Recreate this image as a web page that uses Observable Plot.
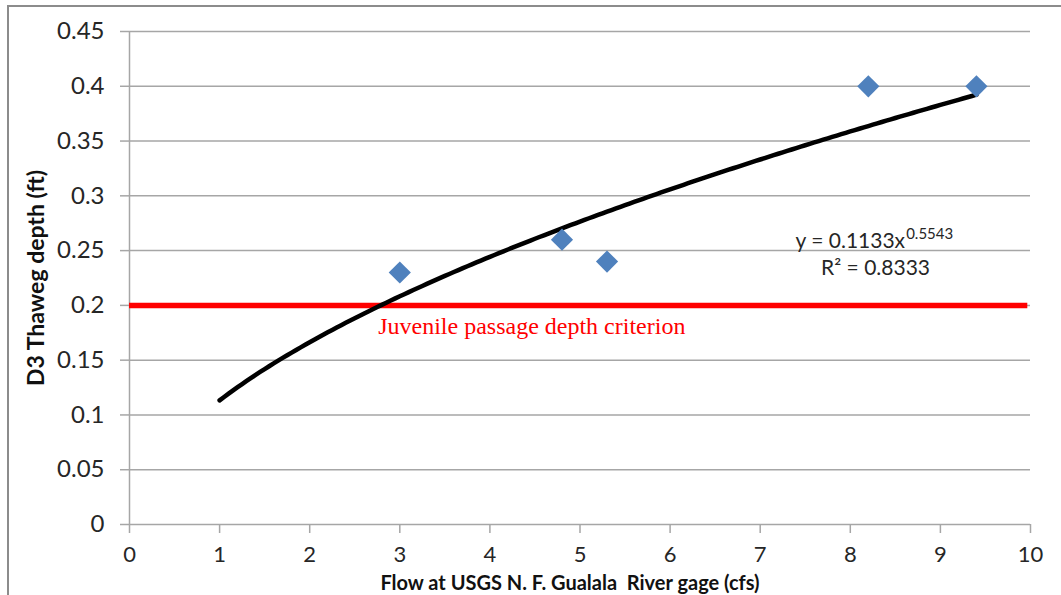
<!DOCTYPE html>
<html>
<head>
<meta charset="utf-8">
<script src="https://cdn.jsdelivr.net/npm/d3@7"></script>
<script src="https://cdn.jsdelivr.net/npm/@observablehq/plot@0.6"></script>
<style>
  html, body { margin: 0; padding: 0; background: #fff; overflow: hidden; }
  #wrap { position: relative; width: 1061px; height: 595px; }
  #border { position: absolute; left: 7px; top: 5px; width: 1200px; height: 800px;
            border: 2px solid #8c8c8c; box-sizing: border-box; }
  #chart { position: absolute; left: 0; top: 0; }
</style>
</head>
<body>
<div id="wrap">
  <div id="border"></div>
  <div id="chart"></div>
</div>
<script>
// Measured flow (cfs) and D3 thalweg depth (ft)
const flow = [3, 4.8, 5.3, 8.2, 9.4];
const depth = [0.23, 0.26, 0.24, 0.40, 0.40];

// Power trendline coefficients, y = a * x^b
const coefA = 0.1133;
const coefB = 0.5543;
const rSquared = 0.8333;
const trendRange = [1, 9.4];

// Juvenile passage criterion depth (ft)
const criterion = 0.2;

const yTicks = [0, 0.05, 0.1, 0.15, 0.2, 0.25, 0.3, 0.35, 0.4, 0.45];
const xTicks = [0, 1, 2, 3, 4, 5, 6, 7, 8, 9, 10];

const xTitle = "Flow at USGS N. F. Gualala  River gage (cfs)";
const yTitle = "D3 Thaweg depth (ft)";
const criterionLabel = "Juvenile passage depth criterion";

const points = flow.map((x, i) => ({x, y: depth[i]}));
const trend = d3.range(trendRange[0], trendRange[1] + 1e-9, 0.05)
  .concat([trendRange[1]])
  .map(x => ({x, y: coefA * Math.pow(x, coefB)}));

const gridColor = "#a6a6a6";
const textColor = "#262626";

const chart = Plot.plot({
  width: 1061,
  height: 595,
  marginLeft: 129,
  marginRight: 31,
  marginTop: 31,
  marginBottom: 71,
  style: {fontFamily: "Lato, 'Open Sans', sans-serif", fontSize: "24px", color: textColor, background: "transparent"},
  x: {domain: [0, 10]},
  y: {domain: [0, 0.45]},
  marks: [
    Plot.gridY(yTicks, {stroke: gridColor, strokeOpacity: 1, strokeWidth: 1.5}),
    Plot.ruleX([0], {stroke: gridColor, strokeWidth: 1.5}),
    Plot.axisY(yTicks, {
      tickSize: 9, tickPadding: 16, stroke: gridColor, strokeWidth: 1.5,
      tickFormat: d => String(+d.toFixed(2)),
      fill: textColor, fontSize: 24,
      label: null
    }),
    Plot.axisX(xTicks, {
      tickSize: 9, tickPadding: 13, stroke: gridColor, strokeWidth: 1.5,
      fill: textColor, fontSize: 22,
      label: null
    }),
    Plot.text([xTitle], {
      frameAnchor: "bottom", dx: -10, dy: 59, text: d => d, fontWeight: "bold", fontSize: 20,
      fill: "#111", lineAnchor: "middle", letterSpacing: "0.6px"
    }),
    Plot.text([yTitle], {
      frameAnchor: "left", dx: -93, text: d => d, rotate: -90, fontWeight: "bold", fontSize: 23,
      fill: "#111", lineAnchor: "middle", textAnchor: "middle"
    }),
    Plot.ruleY([criterion], {stroke: "#ff0000", strokeWidth: 5.5, x1: 0, x2: 9.97}),
    Plot.text([{x: 2.76, y: criterion}], {
      x: "x", y: "y", text: () => criterionLabel,
      textAnchor: "start", lineAnchor: "top", dy: 12,
      fill: "#ff0000", fontFamily: "'Liberation Serif', 'Times New Roman', serif", fontSize: 24
    }),
    Plot.line(trend, {x: "x", y: "y", stroke: "#000", strokeWidth: 4.5, curve: "linear"}),
    Plot.dot(points, {x: "x", y: "y", symbol: "diamond2", r: 10, fill: "#4f81bd", stroke: "none"}),
    Plot.text([{x: 8.0, y: 0.2527}], {
      x: "x", y: "y", text: () => `y = ${coefA}x`, textAnchor: "middle",
      lineAnchor: "bottom", fontSize: 21, fill: textColor
    }),
    Plot.text([{x: 8.62, y: 0.2527}], {
      x: "x", y: "y", text: () => `${coefB}`, textAnchor: "start",
      lineAnchor: "bottom", dy: -9, fontSize: 15, fill: textColor
    }),
    Plot.text([{x: 8.28, y: 0.228}], {
      x: "x", y: "y", text: () => `R² = ${rSquared}`, textAnchor: "middle",
      lineAnchor: "bottom", fontSize: 21, fill: textColor
    })
  ]
});

document.getElementById("chart").appendChild(chart);
</script>
</body>
</html>
